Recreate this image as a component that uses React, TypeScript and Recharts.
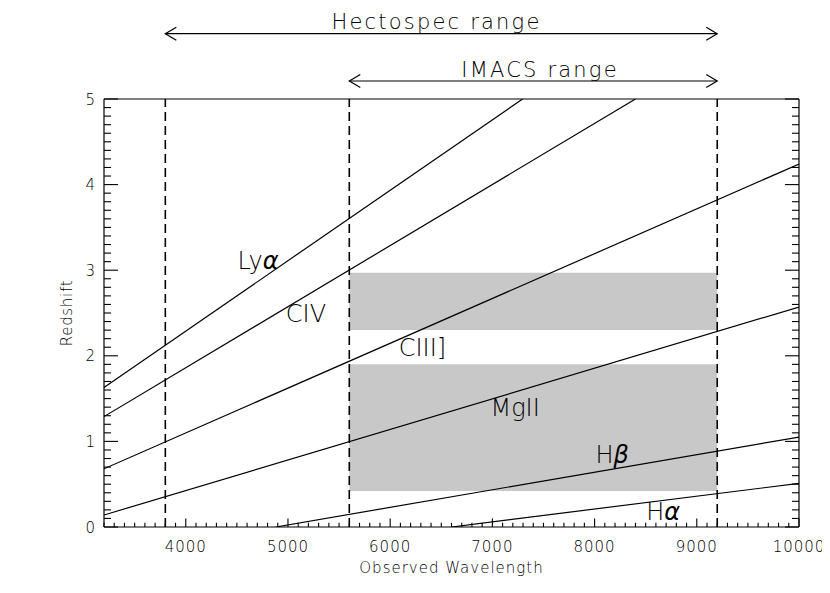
import {
    Line,
    LineChart,
    ReferenceArea,
    ReferenceDot,
    ReferenceLine,
    XAxis,
    YAxis,
} from "recharts";

const FONT = '"DejaVu Sans", "Liberation Sans", sans-serif';

const lyaLine = [{ w: 3200, z: 1.63 }, { w: 7296, z: 5 }];
const civLine = [{ w: 3200, z: 1.29 }, { w: 8400, z: 5 }];
const ciiiLine = [{ w: 3200, z: 0.68 }, { w: 10000, z: 4.24 }];
const mgiiLine = [{ w: 3200, z: 0.14 }, { w: 10000, z: 2.57 }];
const hbLine = [{ w: 4880, z: 0 }, { w: 10000, z: 1.05 }];
const haLine = [{ w: 6600, z: 0 }, { w: 10000, z: 0.51 }];

// Where each line is labelled (text centre, baseline)
const lineLabels = [
    { text: "Ly", greek: "α", w: 4707, z: 3.01 },
    { text: "CIV", greek: "", w: 5176, z: 2.39 },
    { text: "CIII]", greek: "", w: 6316, z: 2.0 },
    { text: "MgII", greek: "", w: 7222, z: 1.3 },
    { text: "H", greek: "β", w: 8171, z: 0.75 },
    { text: "H", greek: "α", w: 8670, z: 0.08 },
];

// Instrument ranges (Å)
const dashedAt = [3800, 5600, 9200];
const ranges = [
    { name: "Hectospec range", from: 3800, to: 9200, arrowZ: 5.763, textW: 6453, textZ: 5.82 },
    { name: "IMACS range", from: 5600, to: 9200, arrowZ: 5.21, textW: 7466, textZ: 5.26 },
];

// Grey redshift windows covered by both
const bandFrom = 5600;
const bandTo = 9200;
const bands = [
    { z1: 2.3, z2: 2.97 },
    { z1: 0.42, z2: 1.9 },
];

// Axis ticks
const xMinorTicks = Array.from({ length: 69 }, (_, i) => 3200 + i * 100);
const yMinorTicks = Array.from({ length: 51 }, (_, i) => i / 10);

const textStyle = { fontFamily: FONT, fontWeight: 200, fill: "#000" };

const BottomTick = ({ x, y, payload }: any) => {
    const major = payload.value % 1000 === 0;
    return (
        <g>
            <line x1={x} x2={x} y1={y} y2={y - (major ? 8.5 : 4.2)} stroke="#000" strokeWidth={1.1} />
            {major && (
                <text x={x} y={y + 25} textAnchor="middle" fontSize={15} letterSpacing={1} style={textStyle}>
                    {payload.value}
                </text>
            )}
        </g>
    );
};

const TopTick = ({ x, y, payload }: any) => {
    const major = payload.value % 1000 === 0;
    return <line x1={x} x2={x} y1={y} y2={y + (major ? 8.5 : 4.2)} stroke="#000" strokeWidth={1.1} />;
};

const LeftTick = ({ x, y, payload }: any) => {
    const major = Number.isInteger(payload.value);
    return (
        <g>
            <line x1={x} x2={x + (major ? 14 : 7)} y1={y} y2={y} stroke="#000" strokeWidth={1.1} />
            {major && (
                <text x={x - 9} y={y + 5.5} textAnchor="end" fontSize={15} style={textStyle}>
                    {payload.value}
                </text>
            )}
        </g>
    );
};

const RightTick = ({ x, y, payload }: any) => {
    const major = Number.isInteger(payload.value);
    return <line x1={x} x2={x - (major ? 14 : 7)} y1={y} y2={y} stroke="#000" strokeWidth={1.1} />;
};

const XTitle = ({ viewBox }: any) => (
    <text
        x={viewBox.x + viewBox.width / 2}
        y={viewBox.y + 46}
        textAnchor="middle"
        fontSize={15}
        letterSpacing={1}
        style={textStyle}
    >
        Observed Wavelength
    </text>
);

const YTitle = ({ viewBox }: any) => {
    const cx = viewBox.x + viewBox.width - 37;
    const cy = viewBox.y + viewBox.height / 2;
    return (
        <text
            x={cx}
            y={cy}
            dy="0.36em"
            transform={`rotate(-90 ${cx} ${cy})`}
            textAnchor="middle"
            fontSize={15}
            letterSpacing={0.7}
            style={textStyle}
        >
            Redshift
        </text>
    );
};

// double-headed arrow with open chevrons
const ArrowLine = ({ x1, y1, x2, y2 }: any) => (
    <g stroke="#000" strokeWidth={1.2} fill="none">
        <line x1={x1} y1={y1} x2={x2} y2={y2} />
        <polyline points={`${x1 + 11},${y1 - 6.5} ${x1},${y1} ${x1 + 11},${y1 + 6.5}`} />
        <polyline points={`${x2 - 11},${y2 - 6.5} ${x2},${y2} ${x2 - 11},${y2 + 6.5}`} />
    </g>
);

const App = () => {
    return (
        <div style={{ width: 822, height: 577 }}>
            <LineChart width={822} height={577} margin={{ top: 90, right: 30, left: 36, bottom: 18 }}>
                {/* Ejes inferiores / izquierdos con etiquetas */}
                <XAxis
                    xAxisId="b"
                    type="number"
                    dataKey="w"
                    domain={[3200, 10000]}
                    allowDataOverflow
                    ticks={xMinorTicks}
                    interval={0}
                    tickLine={false}
                    tickSize={0}
                    tickMargin={0}
                    tick={<BottomTick />}
                    height={40}
                    axisLine={{ stroke: "#000", strokeWidth: 1.2 }}
                    label={{ content: <XTitle /> }}
                />
                <XAxis
                    xAxisId="t"
                    orientation="top"
                    type="number"
                    domain={[3200, 10000]}
                    allowDataOverflow
                    ticks={xMinorTicks}
                    interval={0}
                    tickLine={false}
                    tickSize={0}
                    tickMargin={0}
                    tick={<TopTick />}
                    height={1}
                    axisLine={{ stroke: "#000", strokeWidth: 1.2 }}
                />
                <YAxis
                    yAxisId="l"
                    type="number"
                    dataKey="z"
                    domain={[0, 5]}
                    allowDataOverflow
                    ticks={yMinorTicks}
                    interval={0}
                    tickLine={false}
                    tickSize={0}
                    tickMargin={0}
                    tick={<LeftTick />}
                    width={60}
                    axisLine={{ stroke: "#000", strokeWidth: 1.2 }}
                    label={{ content: <YTitle /> }}
                />
                <YAxis
                    yAxisId="r"
                    orientation="right"
                    type="number"
                    domain={[0, 5]}
                    allowDataOverflow
                    ticks={yMinorTicks}
                    interval={0}
                    tickLine={false}
                    tickSize={0}
                    tickMargin={0}
                    tick={<RightTick />}
                    width={1}
                    axisLine={{ stroke: "#000", strokeWidth: 1.2 }}
                />

                {/* Bandas grises */}
                {bands.map((b, i) => (
                    <ReferenceArea
                        key={i}
                        xAxisId="b"
                        yAxisId="l"
                        x1={bandFrom}
                        x2={bandTo}
                        y1={b.z1}
                        y2={b.z2}
                        fill="#c8c8c8"
                        fillOpacity={1}
                        stroke="none"
                    />
                ))}

                {/* Líneas verticales discontinuas */}
                {dashedAt.map((w) => (
                    <ReferenceLine
                        key={w}
                        xAxisId="b"
                        yAxisId="l"
                        x={w}
                        stroke="#000"
                        strokeWidth={1.6}
                        strokeDasharray="9 5"
                    />
                ))}

                {/* Líneas de emisión */}
                {[lyaLine, civLine, ciiiLine, mgiiLine, hbLine, haLine].map((d, i) => (
                    <Line
                        key={i}
                        xAxisId="b"
                        yAxisId="l"
                        data={d}
                        dataKey="z"
                        type="linear"
                        stroke="#000"
                        strokeWidth={1.2}
                        dot={false}
                        activeDot={false}
                        isAnimationActive={false}
                    />
                ))}

                {/* Etiquetas de líneas */}
                {lineLabels.map((l, i) => (
                    <ReferenceDot
                        key={i}
                        xAxisId="b"
                        yAxisId="l"
                        x={l.w}
                        y={l.z}
                        r={0}
                        ifOverflow="visible"
                        shape={({ cx, cy }: any) => (
                            <text x={cx} y={cy} textAnchor="middle" fontSize={24} style={textStyle}>
                                {l.text}
                                {l.greek && <tspan fontStyle="italic">{l.greek}</tspan>}
                            </text>
                        )}
                    />
                ))}

                {/* Rangos de los instrumentos */}
                {ranges.map((r) => (
                    <ReferenceLine
                        key={r.name + "-arrow"}
                        xAxisId="b"
                        yAxisId="l"
                        segment={[
                            { x: r.from, y: r.arrowZ },
                            { x: r.to, y: r.arrowZ },
                        ]}
                        ifOverflow="visible"
                        shape={<ArrowLine />}
                    />
                ))}
                {ranges.map((r) => (
                    <ReferenceDot
                        key={r.name + "-text"}
                        xAxisId="b"
                        yAxisId="l"
                        x={r.textW}
                        y={r.textZ}
                        r={0}
                        ifOverflow="visible"
                        shape={({ cx, cy }: any) => (
                            <text x={cx} y={cy} textAnchor="middle" fontSize={21} letterSpacing={2.2} style={textStyle}>
                                {r.name}
                            </text>
                        )}
                    />
                ))}
            </LineChart>
        </div>
    );
};

export default App;
